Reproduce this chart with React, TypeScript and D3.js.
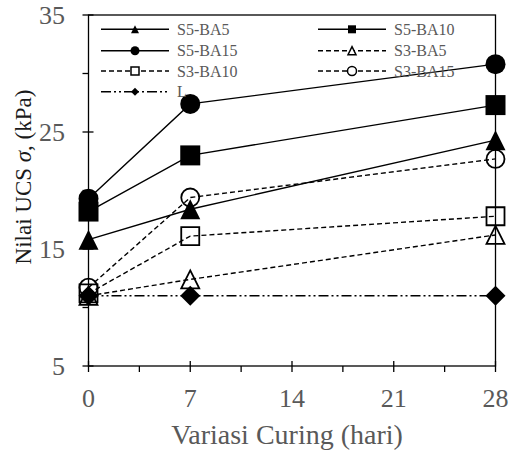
import { useEffect, useRef } from 'react';
import * as d3 from 'd3';

// curing days and UCS values (kPa)
const days = [0, 7, 28];
const s5ba5 = [15.8, 18.4, 24.3];
const s5ba10 = [18.2, 23.0, 27.3];
const s5ba15 = [19.3, 27.4, 30.8];
const s3ba5 = [11.0, 12.4, 16.2];
const s3ba10 = [11.2, 16.1, 17.8];
const s3ba15 = [11.7, 19.4, 22.7];
const lime = [11.0, 11.0, 11.0];

const seriesNames = ['S5-BA5', 'S5-BA10', 'S5-BA15', 'S3-BA5', 'S3-BA10', 'S3-BA15', 'L'];
const seriesValues = [s5ba5, s5ba10, s5ba15, s3ba5, s3ba10, s3ba15, lime];
const seriesMarkers = ['triangle', 'square', 'circle', 'triangle', 'square', 'circle', 'diamond'];
const seriesFilled = [true, true, true, false, false, false, true];
const seriesDash = ['', '', '', '5,3', '5,3', '5,3', '10,3,2,3,2,3'];

const xMajor = [0, 7, 14, 21, 28];
const xMinor = [3.5, 10.5, 17.5, 24.5];
const yMajor = [5, 15, 25, 35];
const yMinor = [10, 20, 30];

const TEXT = '#595959';
const FONT = '"Liberation Serif", "Times New Roman", serif';

function markerPath(type: string, s: number) {
  const h = s / 2;
  if (type === 'triangle') return `M0,${-h}L${h},${h}L${-h},${h}Z`;
  if (type === 'square') return `M${-h},${-h}H${h}V${h}H${-h}Z`;
  if (type === 'diamond') return `M0,${-h}L${h},0L0,${h}L${-h},0Z`;
  return d3.arc()({ innerRadius: 0, outerRadius: h, startAngle: 0, endAngle: 2 * Math.PI }) as string;
}

export default function App() {
  const svgRef = useRef<SVGSVGElement | null>(null);

  useEffect(() => {
    if (!svgRef.current) return;
    const width = 513;
    const height = 454;
    const left = 88.5;
    const right = 495.5;
    const top = 15;
    const bottom = 366;

    const svg = d3.select(svgRef.current).attr('width', width).attr('height', height);
    svg.selectAll('*').remove();

    const x = d3.scaleLinear().domain([0, 28]).range([left, right]);
    const y = d3.scaleLinear().domain([5, 35]).range([bottom, top]);

    // frame
    svg
      .append('rect')
      .attr('x', left)
      .attr('y', top)
      .attr('width', right - left)
      .attr('height', bottom - top)
      .attr('fill', 'none')
      .attr('stroke', '#000')
      .attr('stroke-width', 1.3);

    // ticks
    const ticks = svg.append('g').attr('stroke', '#000').attr('stroke-width', 1.3);
    yMajor.forEach((v) => {
      ticks.append('line').attr('x1', left - 6).attr('x2', left + 5).attr('y1', y(v)).attr('y2', y(v));
    });
    yMinor.forEach((v) => {
      ticks.append('line').attr('x1', left - 6).attr('x2', left).attr('y1', y(v)).attr('y2', y(v));
    });
    xMajor.forEach((v) => {
      ticks.append('line').attr('x1', x(v)).attr('x2', x(v)).attr('y1', bottom - 5).attr('y2', bottom + 6);
    });
    xMinor.forEach((v) => {
      ticks.append('line').attr('x1', x(v)).attr('x2', x(v)).attr('y1', bottom).attr('y2', bottom + 6);
    });

    // tick labels
    svg
      .append('g')
      .selectAll('text')
      .data(yMajor)
      .join('text')
      .attr('x', 65)
      .attr('y', (d) => y(d))
      .attr('dy', '0.33em')
      .attr('text-anchor', 'end')
      .attr('fill', TEXT)
      .style('font-family', FONT)
      .style('font-size', '26px')
      .text((d) => d);

    svg
      .append('g')
      .selectAll('text')
      .data(xMajor)
      .join('text')
      .attr('x', (d) => x(d))
      .attr('y', 406.5)
      .attr('text-anchor', 'middle')
      .attr('fill', TEXT)
      .style('font-family', FONT)
      .style('font-size', '26px')
      .text((d) => d);

    // axis titles
    svg
      .append('text')
      .attr('x', 287)
      .attr('y', 444)
      .attr('text-anchor', 'middle')
      .attr('fill', TEXT)
      .style('font-family', FONT)
      .style('font-size', '28px')
      .text('Variasi Curing (hari)');

    const yTitle = svg
      .append('text')
      .attr('transform', 'translate(31,177) rotate(-90)')
      .attr('text-anchor', 'middle')
      .attr('fill', '#1a1a1a')
      .style('font-family', FONT)
      .style('font-size', '23px');
    yTitle.append('tspan').text('Nilai UCS ');
    yTitle.append('tspan').style('font-style', 'italic').text('σ');
    yTitle.append('tspan').text(', (kPa)');

    // series
    const line = d3
      .line<number>()
      .x((_, i) => x(days[i]))
      .y((d) => y(d));

    seriesValues.forEach((vals, si) => {
      const g = svg.append('g');
      g.append('path')
        .attr('d', line(vals))
        .attr('fill', 'none')
        .attr('stroke', '#000')
        .attr('stroke-width', 1.4)
        .attr('stroke-dasharray', seriesDash[si]);
      g.selectAll('path.mk')
        .data(vals)
        .join('path')
        .attr('class', 'mk')
        .attr('transform', (d, i) => `translate(${x(days[i])},${y(d)})`)
        .attr('d', markerPath(seriesMarkers[si], seriesFilled[si] ? 20 : 18))
        .attr('fill', seriesFilled[si] ? '#000' : 'none')
        .attr('stroke', '#000')
        .attr('stroke-width', seriesFilled[si] ? 0 : 1.8);
    });

    // legend
    const legendX = [101, 318];
    const legendY = [29.3, 50.7, 71, 91.7];
    seriesNames.forEach((name, si) => {
      const lx = legendX[si % 2];
      const ly = legendY[Math.floor(si / 2)];
      const g = svg.append('g').attr('transform', `translate(${lx},${ly})`);
      g.append('line')
        .attr('x1', 0)
        .attr('x2', 68)
        .attr('stroke', '#000')
        .attr('stroke-width', 1.4)
        .attr('stroke-dasharray', seriesDash[si]);
      g.append('path')
        .attr('transform', 'translate(34,0)')
        .attr('d', markerPath(seriesMarkers[si], seriesMarkers[si] === 'circle' ? 9 : 8))
        .attr('fill', seriesFilled[si] ? '#000' : '#fff')
        .attr('stroke', '#000')
        .attr('stroke-width', seriesFilled[si] ? 0 : 1.5);
      g.append('text')
        .attr('x', 76)
        .attr('dy', '0.35em')
        .attr('fill', TEXT)
        .style('font-family', FONT)
        .style('font-size', '16px')
        .text(name);
    });
  }, []);

  return <svg ref={svgRef} style={{ position: 'absolute', left: 0, top: 0 }} />;
}
